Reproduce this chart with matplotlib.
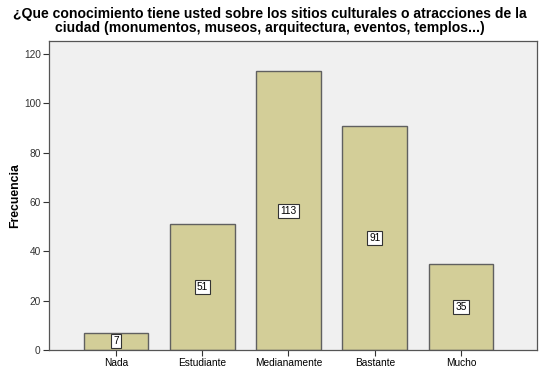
import matplotlib
matplotlib.use("Agg")
import matplotlib.pyplot as plt

categories = ["Nada", "Estudiante", "Medianamente", "Bastante", "Mucho"]
values = [7, 51, 113, 91, 35]
yticks = [0, 20, 40, 60, 80, 100, 120]

plt.rcParams['font.family'] = ['Liberation Sans', 'DejaVu Sans']

fig = plt.figure(figsize=(5.39, 3.73), dpi=100)
fig.patch.set_facecolor('white')
ax = fig.add_axes([49/539, 1 - 350/373, (537-49)/539, (350-41)/373])
ax.set_facecolor('#f0f0f0')

x = list(range(len(categories)))
bars = ax.bar(x, values, width=0.75, color='#d3ce98', edgecolor='#606060', linewidth=1.0, zorder=2)
for xi, v in zip(x, values):
    ax.text(xi, v / 2, str(v), ha='center', va='center', fontsize=7.3, zorder=3,
            bbox=dict(boxstyle='square,pad=0.2', facecolor='white', edgecolor='#333333', linewidth=0.8))

ax.set_xlim(-0.775, 4.88)
ax.set_ylim(0, 125.3)
ax.set_xticks(x)
ax.set_xticklabels(categories, fontsize=7.3)
ax.set_yticks(yticks)
ax.set_yticklabels([str(t) for t in yticks], fontsize=7.3, color='#333333')
ax.tick_params(axis='both', length=4, width=0.8, color='#333333', pad=2)
for s in ax.spines.values():
    s.set_color('#555555')
    s.set_linewidth(0.9)
ax.set_ylabel('Frecuencia', fontsize=8.8, fontweight='bold')
ax.yaxis.set_label_coords(-(49 - 21) / 488, 0.5)

fig.text(0.5, 1 - 7/373, "¿Que conocimiento tiene usted sobre los sitios culturales o atracciones de la\nciudad (monumentos, museos, arquitectura, eventos, templos...)",
         ha='center', va='top', fontsize=10.1, fontweight='bold', linespacing=1.0)

fig.savefig('out.png', dpi=100)
